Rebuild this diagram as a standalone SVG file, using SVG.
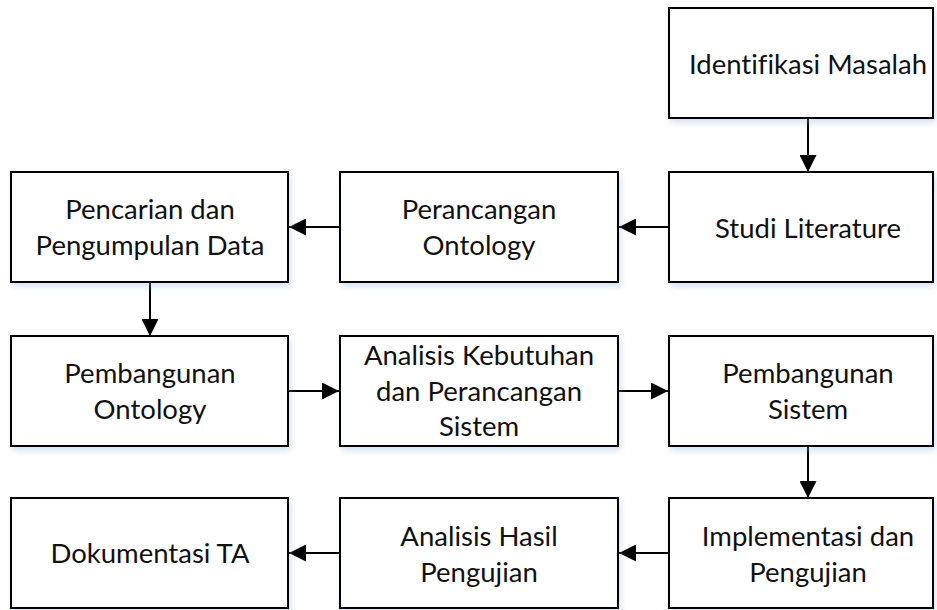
<svg xmlns="http://www.w3.org/2000/svg" width="937" height="610" viewBox="0 0 937 610">
<style>
.box{fill:#fff;stroke:#000;stroke-width:2;filter:url(#sh)}
.t{font-family:Lato,"Open Sans","Liberation Sans",sans-serif;font-size:27.5px;font-weight:400;fill:#111;text-anchor:middle;font-variant-ligatures:none}
.c{stroke:#000;stroke-width:2;fill:none;marker-end:url(#ah)}
</style>
<defs>
<filter id="sh" x="-5%" y="-10%" width="115%" height="130%">
<feDropShadow dx="2" dy="4" stdDeviation="3" flood-color="#8fb0d8" flood-opacity="0.35"/>
</filter>
<marker id="ah" markerWidth="17" markerHeight="17" refX="17" refY="8.5" orient="auto" markerUnits="userSpaceOnUse">
<path d="M0,0 L17,8.5 L0,17 Z" fill="#000"/>
</marker>
</defs>
<g id="connectors">
<line class="c" x1="808" y1="118" x2="808" y2="172"/>
<line class="c" x1="669" y1="227" x2="619" y2="227"/>
<line class="c" x1="340" y1="227" x2="289" y2="227"/>
<line class="c" x1="150" y1="282" x2="150" y2="336"/>
<line class="c" x1="288" y1="391" x2="339" y2="391"/>
<line class="c" x1="618" y1="391" x2="668" y2="391"/>
<line class="c" x1="808" y1="446" x2="808" y2="498"/>
<line class="c" x1="669" y1="553" x2="619" y2="553"/>
<line class="c" x1="340" y1="553" x2="289" y2="553"/>
</g>
<g id="n1"><rect class="box" x="669" y="8" width="264" height="110"/><text class="t" x="808" y="74">Identifikasi Masalah</text></g>
<g id="n2"><rect class="box" x="669" y="172" width="264" height="110"/><text class="t" x="808" y="238">Studi Literature</text></g>
<g id="n3"><rect class="box" x="340" y="172" width="278" height="110"/><text class="t" x="479" y="219">Perancangan</text><text class="t" x="479" y="255">Ontology</text></g>
<g id="n4"><rect class="box" x="11" y="172" width="277" height="110"/><text class="t" x="150" y="219">Pencarian dan</text><text class="t" x="150" y="255">Pengumpulan Data</text></g>
<g id="n5"><rect class="box" x="11" y="336" width="277" height="110"/><text class="t" x="150" y="383">Pembangunan</text><text class="t" x="150" y="419">Ontology</text></g>
<g id="n6"><rect class="box" x="340" y="336" width="278" height="110"/><text class="t" x="479" y="365">Analisis Kebutuhan</text><text class="t" x="479" y="401">dan Perancangan</text><text class="t" x="479" y="436">Sistem</text></g>
<g id="n7"><rect class="box" x="669" y="336" width="264" height="110"/><text class="t" x="808" y="383">Pembangunan</text><text class="t" x="808" y="419">Sistem</text></g>
<g id="n8"><rect class="box" x="669" y="498" width="264" height="110"/><text class="t" x="808" y="546">Implementasi dan</text><text class="t" x="808" y="582">Pengujian</text></g>
<g id="n9"><rect class="box" x="340" y="498" width="278" height="110"/><text class="t" x="479" y="546">Analisis Hasil</text><text class="t" x="479" y="582">Pengujian</text></g>
<g id="n10"><rect class="box" x="11" y="498" width="277" height="110"/><text class="t" x="150" y="563">Dokumentasi TA</text></g>
</svg>
